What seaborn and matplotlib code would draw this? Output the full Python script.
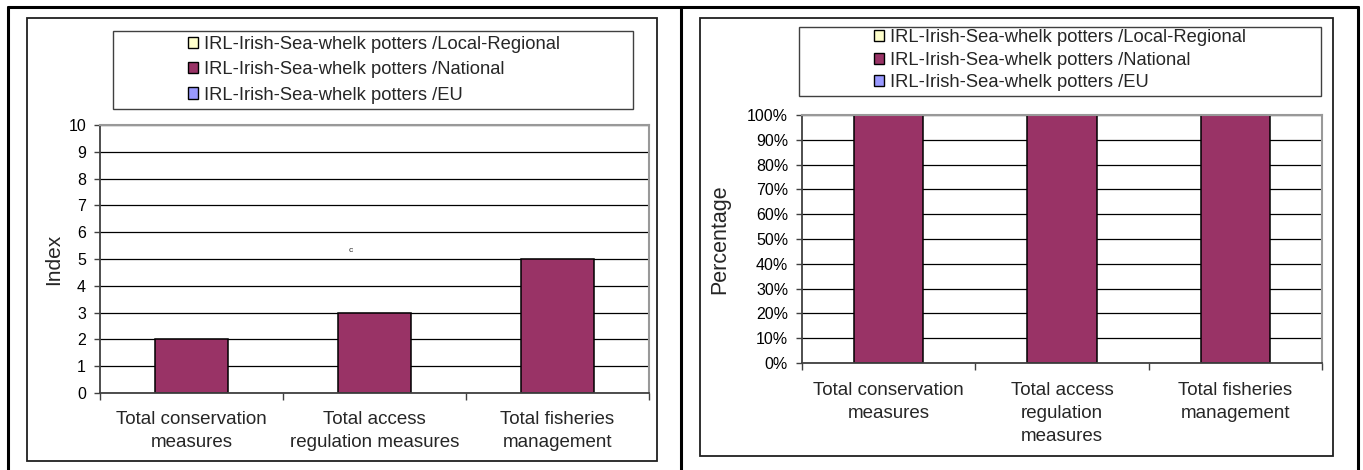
import matplotlib
matplotlib.use("Agg")
import matplotlib.pyplot as plt
import seaborn as sns
import pandas as pd
from matplotlib.patches import Patch, Rectangle
from matplotlib.lines import Line2D
from matplotlib.ticker import FixedLocator, FuncFormatter

# ---------------- data ----------------
categories_left = ["Total conservation\nmeasures", "Total access\nregulation measures", "Total fisheries\nmanagement"]
categories_right = ["Total conservation\nmeasures", "Total access\nregulation\nmeasures", "Total fisheries\nmanagement"]
series_names = ["IRL-Irish-Sea-whelk potters /Local-Regional",
                "IRL-Irish-Sea-whelk potters /National",
                "IRL-Irish-Sea-whelk potters /EU"]
series_colors = ["#FFFFCC", "#993366", "#9999FF"]
national_index = [2, 3, 5]
national_pct = [100, 100, 100]
index_ticks = list(range(0, 11))
pct_ticks = list(range(0, 101, 10))

sns.set_theme(style="white")
plt.rcParams["font.family"] = ["Liberation Sans", "DejaVu Sans"]

W, H = 1363, 470
fig = plt.figure(figsize=(W / 100, H / 100), dpi=100)

def fx(px):
    return px / W

def fy(py):
    return 1 - py / H

# decorative frames
border_kw = dict(color="black", lw=2.2, transform=fig.transFigure)
fig.add_artist(Line2D([fx(8), fx(8)], [0, fy(7)], **border_kw))
fig.add_artist(Line2D([fx(8), fx(1358)], [fy(7), fy(7)], **border_kw))
fig.add_artist(Line2D([fx(1358), fx(1358)], [0, fy(7)], **border_kw))
fig.add_artist(Line2D([fx(681), fx(681)], [0, fy(7)], **border_kw))

for (x0, y0, x1, y1) in [(27, 18, 657, 461), (700, 18, 1333, 456)]:
    fig.add_artist(Rectangle((fx(x0), fy(y1)), fx(x1) - fx(x0), fy(y0) - fy(y1),
                             transform=fig.transFigure, fill=False, ec="#202020", lw=1.3))

# legend boxes
for (x0, y0, x1, y1) in [(113, 31, 633, 109), (799, 27, 1321, 96)]:
    fig.add_artist(Rectangle((fx(x0), fy(y1)), fx(x1) - fx(x0), fy(y0) - fy(y1),
                             transform=fig.transFigure, fill=False, ec="#404040", lw=1.0))

def style_axes(ax, ticks, ymax, cats, fmt=None, labelpad_x=11):
    ax.set_ylim(0, ymax)
    ax.set_xlim(-0.5, 2.5)
    ax.yaxis.set_major_locator(FixedLocator(ticks))
    if fmt:
        ax.yaxis.set_major_formatter(FuncFormatter(fmt))
    ax.set_yticklabels([fmt(t, None) if fmt else str(t) for t in ticks])
    ax.grid(axis="y", color="black", lw=0.9)
    ax.set_axisbelow(True)
    ax.tick_params(axis="y", which="major", left=True, length=4, width=1, color="#404040",
                   labelsize=11.5, pad=6, labelcolor="black")
    ax.set_xticks([0, 1, 2])
    ax.set_xticklabels(cats, fontsize=13.5, linespacing=1.45)
    ax.set_xticks([-0.5, 0.5, 1.5, 2.5], minor=True)
    ax.tick_params(axis="x", which="major", length=0, pad=labelpad_x)
    ax.tick_params(axis="x", which="minor", bottom=True, length=5, width=1, color="#404040")
    for s in ["left", "bottom"]:
        ax.spines[s].set_color("#404040")
        ax.spines[s].set_linewidth(1.3)
    for s in ["top", "right"]:
        ax.spines[s].set_color("#999999")
        ax.spines[s].set_linewidth(1.5)
    ax.set_xlabel("")

handles = [Patch(facecolor=c, edgecolor="black", lw=1) for c in series_colors]
leg_kw = dict(bbox_transform=fig.transFigure, frameon=False, fontsize=13.2,
              handlelength=0.55, handleheight=0.55, handletextpad=0.35,
              borderpad=0, borderaxespad=0, loc="upper left")

# ---------------- left: Index ----------------
ax1 = fig.add_axes([fx(100), fy(393), fx(649) - fx(100), fy(125) - fy(393)])
df1 = pd.DataFrame({"category": categories_left, "value": national_index})
sns.barplot(data=df1, x="category", y="value", color=series_colors[1], saturation=1,
            edgecolor="black", linewidth=1.1, width=0.4, ax=ax1)
style_axes(ax1, index_ticks, 10, categories_left, labelpad_x=13)
ax1.set_ylabel("Index", fontsize=15, labelpad=4)
ax1.text(0.87, 5.3, "c", fontsize=6, ha="center", va="center")
ax1.legend(handles, series_names, bbox_to_anchor=(fx(188), fy(36)),
           labelspacing=0.45, **leg_kw)

# ---------------- right: Percentage ----------------
ax2 = fig.add_axes([fx(802), fy(363), fx(1322) - fx(802), fy(115) - fy(363)])
df2 = pd.DataFrame({"category": categories_right, "value": national_pct})
sns.barplot(data=df2, x="category", y="value", color=series_colors[1], saturation=1,
            edgecolor="black", linewidth=1.1, width=0.4, ax=ax2)
style_axes(ax2, pct_ticks, 100, categories_right, fmt=lambda v, p: f"{int(v)}%", labelpad_x=14)
ax2.set_ylabel("Percentage", fontsize=15.5, labelpad=12)
ax2.legend(handles, series_names, bbox_to_anchor=(fx(874), fy(29)),
           labelspacing=0.31, **leg_kw)

fig.savefig("out.png", dpi=100)
